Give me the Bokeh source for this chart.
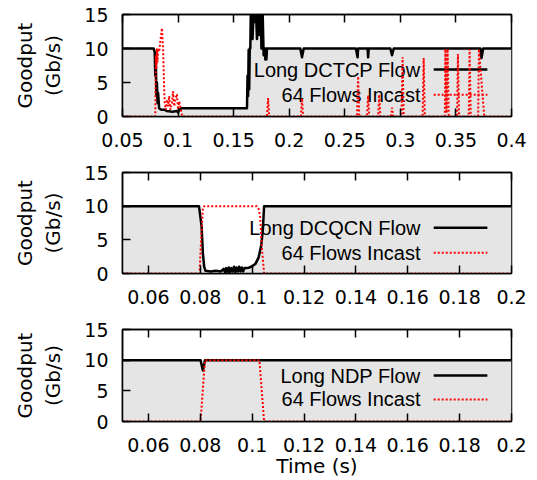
from bokeh.plotting import figure
from bokeh.layouts import column
from bokeh.models import Range1d, FixedTicker, LinearAxis, Label, Arrow
from bokeh.embed import file_html
from bokeh.resources import INLINE

# ---------------- data ----------------
# Panel 1: DCTCP
dctcp_t = [0.050, 0.078, 0.079, 0.0795, 0.080, 0.0805, 0.081, 0.0815, 0.082, 0.083,
           0.085, 0.088, 0.090, 0.095, 0.099, 0.100, 0.101, 0.103, 0.162, 0.1625,
           0.163, 0.1635, 0.164, 0.1645, 0.165, 0.1655, 0.166, 0.1665, 0.167, 0.168,
           0.169, 0.170, 0.171, 0.172, 0.173, 0.1745, 0.175, 0.176, 0.177, 0.178,
           0.1785, 0.179, 0.1795, 0.180, 0.210, 0.2115, 0.213, 0.260, 0.2615, 0.262,
           0.2705, 0.271, 0.2715, 0.291, 0.2925, 0.294, 0.372, 0.373, 0.3745, 0.400]
dctcp_long = [10, 10, 9.5, 6, 8, 3, 5, 2, 3.5, 1.2,
              1.0, 1.0, 0.8, 0.7, 0.8, 0.6, 1.0, 1.2, 1.2, 6,
              3, 9.8, 4, 10, 10, 16, 12, 16, 11.4, 16,
              13.9, 16, 11.4, 15.5, 12, 15.5, 10, 16, 9, 10,
              8.4, 10, 8.4, 10, 10, 8.7, 10, 10, 8.7, 10,
              10, 8.7, 10, 10, 9.0, 10, 10, 8.6, 10, 10]

dctcp_inc_t = [0.050, 0.0795, 0.080, 0.0805, 0.081, 0.0815, 0.082, 0.083, 0.084, 0.0855,
               0.0865, 0.0875, 0.088, 0.089, 0.090, 0.091, 0.092, 0.093, 0.0945, 0.0955,
               0.0965, 0.0975, 0.099, 0.100, 0.101, 0.102, 0.103, 0.104, 0.180, 0.181,
               0.182, 0.2105, 0.2115, 0.2125, 0.261, 0.262, 0.263, 0.270, 0.271, 0.272,
               0.280, 0.281, 0.282, 0.2915, 0.2925, 0.2935, 0.301, 0.302, 0.303, 0.320,
               0.321, 0.322, 0.340, 0.3405, 0.3415, 0.3425, 0.3435, 0.351, 0.3518, 0.3528,
               0.3615, 0.3623, 0.3633, 0.370, 0.3707, 0.3755, 0.400]
dctcp_inc = [0, 0, 9, 7, 10, 8, 10, 9.5, 11, 13,
             10, 4, 2, 1, 2.5, 1.5, 3, 1, 2, 3.7,
             1.5, 2.5, 3.3, 1, 2.2, 1.5, 0.5, 0, 0, 2.7,
             0, 0, 2.7, 0, 0, 5.9, 0, 0, 3.1, 0,
             0, 3.2, 0, 0, 1.3, 0, 0, 8.7, 0, 0,
             8.6, 0, 0, 9.9, 0.5, 9.9, 0, 0, 9.2, 0,
             0, 9.9, 0, 0, 9.9, 0, 0]

# Panel 2: DCQCN
dcqcn_t = [0.050, 0.0795, 0.0805, 0.081, 0.0815, 0.082, 0.084, 0.086, 0.088, 0.089,
           0.0895, 0.090, 0.0905, 0.091, 0.0915, 0.092, 0.0925, 0.093, 0.0935, 0.094,
           0.0945, 0.095, 0.0955, 0.096, 0.0965, 0.097, 0.098, 0.099, 0.100, 0.1012,
           0.1025, 0.1035, 0.1041, 0.1046, 0.200]
dcqcn_long = [10, 10, 7, 3, 1, 0.4, 0.3, 0.4, 0.3, 0.7,
              0.2, 0.8, 0.2, 0.9, 0.2, 0.8, 0.3, 1.0, 0.2, 0.9,
              0.3, 1.0, 0.3, 0.9, 0.3, 0.8, 0.8, 0.9, 1.1, 1.4,
              2.4, 4.2, 6.4, 10, 10]
dcqcn_inc_t = [0.050, 0.0797, 0.0803, 0.0810, 0.0815, 0.1018, 0.1025, 0.1031, 0.1037, 0.1046, 0.200]
dcqcn_inc = [0, 0, 5, 9.8, 10, 10, 9.6, 8.4, 4, 0, 0]

# Panel 3: NDP
ndp_t = [0.050, 0.0801, 0.0810, 0.0818, 0.200]
ndp_long = [10, 10, 8.3, 10, 10]
ndp_inc_t = [0.050, 0.0801, 0.0818, 0.1028, 0.1046, 0.200]
ndp_inc = [0, 0, 10, 10, 0, 0]

# ticks
y_ticks = [0, 5, 10, 15]
x1_ticks = [0.05, 0.1, 0.15, 0.2, 0.25, 0.3, 0.35, 0.4]
x1_labels = ["0.05", "0.1", "0.15", "0.2", "0.25", "0.3", "0.35", "0.4"]
x2_ticks = [0.06, 0.08, 0.1, 0.12, 0.14, 0.16, 0.18, 0.2]
x2_labels = ["0.06", "0.08", "0.1", "0.12", "0.14", "0.16", "0.18", "0.2"]

long_names = ["Long DCTCP Flow", "Long DCQCN Flow", "Long NDP Flow"]
incast_name = "64 Flows Incast"

# ---------------- style ----------------
FILL = "#e5e5e5"
TICK_FONT = "DejaVu Sans"
LEG_FONT = "Liberation Sans"
W = 537


def make_panel(lt, lv, it, iv, xr, ticks, labels, name, height, top, bottom,
               leg_rows, xlabel=None, tick_standoff=16):
    p = figure(width=W, height=height, output_backend="svg", toolbar_location=None,
               x_range=Range1d(*xr), y_range=Range1d(0, 15),
               min_border_left=122, min_border_right=26,
               min_border_top=top, min_border_bottom=bottom)
    p.xgrid.visible = False
    p.ygrid.visible = False
    p.outline_line_color = "black"
    p.outline_line_width = 1.5
    p.background_fill_color = "white"

    # area under the long flow
    p.varea(x=lt, y1=0, y2=lv, fill_color=FILL, level="image")

    # legend (drawn under the data lines)
    x0, x1 = xr
    span = x1 - x0
    tx = x0 + 0.766 * span
    sx0 = x0 + 0.80 * span
    sx1 = x0 + 0.938 * span
    for txt, yy, col, lw, dash in [(name, leg_rows[0], "black", 2.5, "solid"),
                                   (incast_name, leg_rows[1], "red", 2, "2 2")]:
        p.add_layout(Label(x=tx, y=yy, text=txt, text_align="right",
                           text_baseline="middle", text_font=LEG_FONT,
                           text_font_size="20px", text_color="black",
                           level="underlay"))
        p.add_layout(Arrow(end=None, x_start=sx0, y_start=yy, x_end=sx1, y_end=yy,
                           line_color=col, line_width=lw, line_dash=dash,
                           level="underlay"))

    p.line(lt, lv, line_color="black", line_width=2.5, line_join="round")
    p.line(it, iv, line_color="red", line_width=2, line_dash="2 2")

    # axes
    xa = p.xaxis[0]
    xa.ticker = FixedTicker(ticks=ticks)
    xa.major_label_overrides = dict(zip(ticks, labels))
    ya = p.yaxis[0]
    ya.ticker = FixedTicker(ticks=y_ticks)
    for ax in (xa, ya):
        ax.major_tick_out = 0
        ax.major_tick_in = 8
        ax.minor_tick_out = 0
        ax.minor_tick_in = 0
        ax.major_tick_line_color = "black"
        ax.major_tick_line_width = 1.5
        ax.axis_line_color = "black"
        ax.axis_line_width = 1.5
        ax.major_label_text_font = TICK_FONT
        ax.major_label_text_font_size = "19px"
        ax.major_label_text_color = "black"
        ax.axis_label_text_font = TICK_FONT
        ax.axis_label_text_font_size = "20px"
        ax.axis_label_text_font_style = "normal"
        ax.axis_label_text_color = "black"
    xa.major_label_standoff = tick_standoff
    ya.major_label_standoff = 14
    ya.axis_label = "Goodput\n(Gb/s)"
    ya.axis_label_standoff = 16
    if xlabel:
        xa.axis_label = xlabel
        xa.axis_label_standoff = -1

    # mirrored ticks on top
    top_ax = LinearAxis(ticker=FixedTicker(ticks=ticks),
                        major_label_overrides={t: "" for t in ticks},
                        major_label_text_font_size="0px", major_label_standoff=0,
                        major_tick_out=0, major_tick_in=8,
                        major_tick_line_width=1.5,
                        minor_tick_out=0, minor_tick_in=0,
                        axis_line_color="black", axis_line_width=1.5)
    p.add_layout(top_ax, "above")
    return p


p1 = make_panel(dctcp_t, dctcp_long, dctcp_inc_t, dctcp_inc, (0.05, 0.4),
                x1_ticks, x1_labels, long_names[0], 156, 14, 40, (6.9, 3.2))
p2 = make_panel(dcqcn_t, dcqcn_long, dcqcn_inc_t, dcqcn_inc, (0.05, 0.2),
                x2_ticks, x2_labels, long_names[1], 157, 16, 40, (6.8, 3.1))
p3 = make_panel(ndp_t, ndp_long, ndp_inc_t, ndp_inc, (0.05, 0.2),
                x2_ticks, x2_labels, long_names[2], 167, 16, 59, (7.5, 3.6),
                xlabel="Time (s)")

layout = column(p1, p2, p3, spacing=0)
open("out.html", "w").write(file_html(layout, INLINE))
